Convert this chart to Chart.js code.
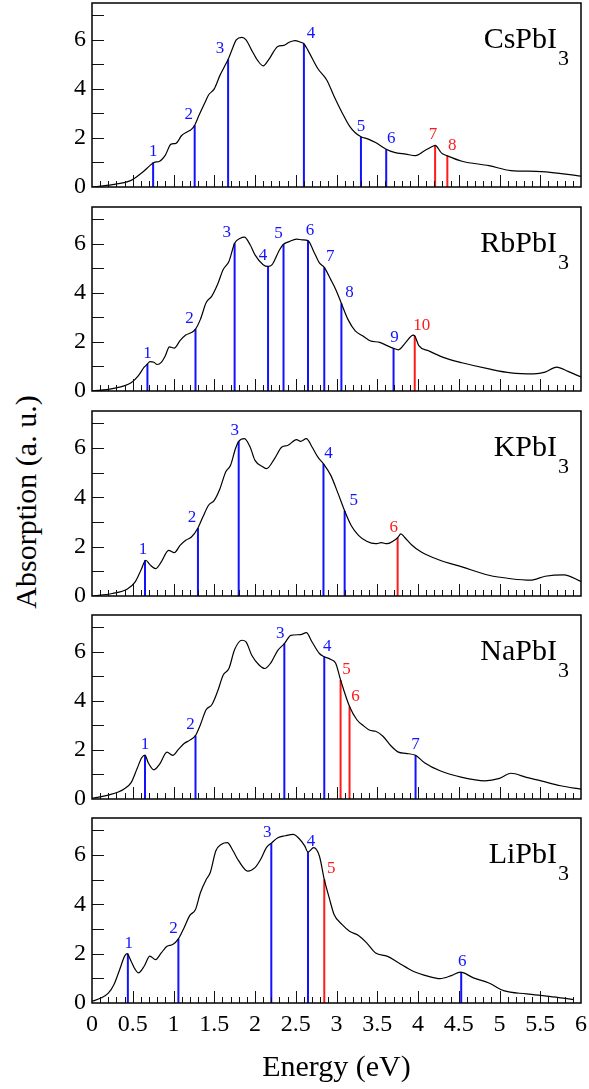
<!DOCTYPE html>
<html>
<head>
<meta charset="utf-8">
<script src="https://cdn.jsdelivr.net/npm/chart.js@4.4.1/dist/chart.umd.min.js"></script>
<style>
  body { margin: 0; background: #fff; }
  #wrap { position: relative; width: 589px; height: 1089px; overflow: hidden; }
  canvas { position: absolute; left: 0; }
  #ytitle {
    position: absolute; left: -124px; top: 485px; width: 300px;
    line-height: 36px; text-align: center; transform: rotate(-90deg);
    font: 30px "Liberation Serif", "Times New Roman", serif; color: #000;
  }
</style>
</head>
<body>
<div id="wrap"><div id="ytitle">Absorption (a. u.)</div></div>
<script>
// absorption spectra, energies in eV
var csE = [0,0.25,0.48,0.62,0.71,0.76,0.83,0.90,0.97,1.03,1.10,1.17,1.22,1.26,1.31,1.38,1.43,1.50,1.57,1.64,1.67,1.73,1.77,1.84,1.89,1.96,2.03,2.10,2.17,2.28,2.35,2.42,2.49,2.56,2.60,2.65,2.77,2.88,2.97,3.07,3.16,3.23,3.30,3.39,3.48,3.61,3.71,3.85,3.97,4.08,4.18,4.21,4.29,4.36,4.54,4.87,5.14,5.51,6.0];
var csA = [0,0.1,0.27,0.6,0.87,1.0,1.05,1.3,1.75,1.78,2.1,2.25,2.35,2.52,2.9,3.4,3.75,4.0,4.55,5.0,5.2,5.7,6.0,6.1,6.0,5.57,5.17,4.94,5.2,5.73,5.77,5.9,5.97,5.9,5.84,5.57,4.83,4.36,3.7,3.02,2.48,2.21,2.05,1.95,1.81,1.54,1.41,1.34,1.28,1.48,1.66,1.7,1.38,1.27,1.05,0.87,0.67,0.63,0.44];
var csPeakE = [0.75,1.26,1.67,2.60,3.30,3.61,4.21,4.36];
var csPeakA = [1.0,2.52,5.2,5.84,2.05,1.54,1.7,1.27];
var csRed = [7, 8];

var rbE = [0,0.25,0.48,0.57,0.64,0.68,0.71,0.76,0.80,0.85,0.90,0.95,1.01,1.08,1.15,1.22,1.27,1.33,1.40,1.47,1.54,1.61,1.68,1.75,1.82,1.87,1.94,2.0,2.10,2.16,2.21,2.30,2.35,2.42,2.51,2.58,2.65,2.72,2.79,2.85,2.93,3.0,3.06,3.14,3.23,3.32,3.41,3.53,3.62,3.70,3.76,3.85,3.94,3.96,4.01,4.13,4.31,4.54,4.87,5.14,5.42,5.56,5.70,5.84,6.0];
var rbA = [0,0.1,0.34,0.63,0.97,1.1,1.2,1.17,1.08,1.17,1.44,1.8,1.75,2.05,2.28,2.38,2.52,2.92,3.6,3.87,4.34,4.95,5.28,6.02,6.23,6.27,5.96,5.55,5.15,5.08,5.15,5.75,5.98,6.09,6.19,6.16,6.13,5.69,5.22,5.04,4.54,4.07,3.57,2.92,2.45,2.25,2.05,1.98,1.85,1.74,1.68,1.98,2.28,2.25,1.85,1.64,1.37,1.15,0.9,0.74,0.7,0.77,0.97,0.8,0.57];
var rbPeakE = [0.68,1.27,1.75,2.16,2.35,2.65,2.85,3.06,3.70,3.96];
var rbPeakA = [1.1,2.52,6.02,5.08,5.98,6.13,5.04,3.57,1.74,2.25];
var rbRed = [10];

var kE = [0,0.25,0.43,0.53,0.60,0.66,0.71,0.78,0.85,0.94,1.01,1.08,1.15,1.22,1.30,1.36,1.43,1.50,1.57,1.64,1.70,1.76,1.80,1.87,1.94,2.0,2.10,2.14,2.24,2.33,2.40,2.51,2.56,2.63,2.70,2.77,2.84,2.93,3.02,3.10,3.18,3.27,3.37,3.48,3.55,3.62,3.71,3.75,3.79,3.84,3.92,4.04,4.27,4.54,4.87,5.14,5.38,5.56,5.79,6.0];
var kA = [0,0.1,0.27,0.57,1.04,1.45,1.27,1.11,1.38,1.85,1.76,2.05,2.26,2.39,2.76,3.2,3.68,3.88,4.35,5.03,5.3,5.97,6.27,6.38,6.04,5.5,5.23,5.16,5.57,6.04,6.1,6.34,6.27,6.38,6.04,5.64,5.36,4.89,4.15,3.45,2.86,2.46,2.22,2.12,2.16,2.12,2.26,2.36,2.52,2.36,2.08,1.78,1.45,1.18,0.84,0.7,0.64,0.8,0.86,0.59];
var kPeakE = [0.65,1.30,1.80,2.84,3.10,3.75];
var kPeakA = [1.45,2.76,6.27,5.36,3.45,2.36];
var kRed = [6];

var naE = [0,0.2,0.39,0.48,0.55,0.61,0.65,0.69,0.76,0.83,0.92,0.99,1.06,1.13,1.20,1.27,1.33,1.40,1.47,1.54,1.61,1.68,1.75,1.84,1.89,1.96,2.05,2.12,2.19,2.28,2.36,2.44,2.56,2.63,2.70,2.79,2.85,2.93,2.99,3.05,3.16,3.25,3.34,3.41,3.48,3.57,3.67,3.76,3.85,3.97,4.08,4.27,4.54,4.82,5.0,5.14,5.33,5.51,5.75,6.0];
var naA = [0.03,0.16,0.4,0.67,1.21,1.68,1.79,1.48,1.19,1.42,1.91,1.78,2.02,2.26,2.4,2.59,3.03,3.64,3.84,4.38,5.05,5.32,6.09,6.47,6.4,5.86,5.46,5.32,5.53,6.06,6.33,6.67,6.7,6.78,6.4,5.93,5.8,5.69,5.53,4.85,3.77,3.23,2.96,2.8,2.76,2.56,2.16,1.91,1.86,1.78,1.48,1.15,0.88,0.74,0.84,1.05,0.88,0.74,0.54,0.4];
var naPeakE = [0.65,1.27,2.36,2.85,3.05,3.16,3.97];
var naPeakA = [1.79,2.59,6.33,5.8,4.85,3.77,1.78];
var naRed = [5, 6];

var liE = [0,0.11,0.2,0.27,0.34,0.40,0.43,0.48,0.53,0.57,0.64,0.71,0.78,0.85,0.92,0.99,1.06,1.13,1.20,1.27,1.33,1.40,1.45,1.52,1.59,1.66,1.73,1.80,1.91,2.0,2.07,2.14,2.20,2.28,2.37,2.47,2.54,2.61,2.65,2.72,2.79,2.85,2.91,2.97,3.07,3.16,3.27,3.37,3.48,3.62,3.76,3.94,4.13,4.27,4.41,4.52,4.68,4.87,5.05,5.33,5.61,5.91];
var liA = [0.07,0.2,0.4,0.75,1.36,1.9,2.0,1.69,1.36,1.22,1.49,1.9,1.76,2.03,2.3,2.37,2.6,3.05,3.55,3.79,4.47,5.0,5.28,6.17,6.44,6.5,6.17,5.76,5.35,5.49,5.83,6.3,6.48,6.7,6.78,6.84,6.67,6.37,6.12,6.3,5.96,5.01,4.27,3.59,3.18,2.91,2.74,2.44,2.03,1.9,1.63,1.29,1.08,0.99,1.11,1.25,1.02,0.81,0.5,0.37,0.27,0.14];
var liPeakE = [0.44,1.06,2.20,2.65,2.85,4.53];
var liPeakA = [2.0,2.6,6.48,6.12,5.01,1.25];
var liRed = [5];

var xTickLabels = [0,0.5,1,1.5,2,2.5,3,3.5,4,4.5,5,5.5,6];
var yTickLabels = [0,2,4,6];

// styling / layout
var BLUE = '#1212ff', RED = '#ff1a1a';
var panels = [
  { name: 'CsPbI', e: csE, a: csA, pe: csPeakE, pa: csPeakA, red: csRed, dx: [0,-6,-8,7,0,5,-2,5] },
  { name: 'RbPbI', e: rbE, a: rbA, pe: rbPeakE, pa: rbPeakA, red: rbRed, dx: [0,-6,-8,-5,-5,2,6,8,1,7] },
  { name: 'KPbI',  e: kE,  a: kA,  pe: kPeakE,  pa: kPeakA,  red: kRed,  dx: [-2,-6,-4,5,9,-4] },
  { name: 'NaPbI', e: naE, a: naA, pe: naPeakE, pa: naPeakA, red: naRed, dx: [0,-5,-4,3,6,6,0] },
  { name: 'LiPbI', e: liE, a: liA, pe: liPeakE, pa: liPeakA, red: liRed, dx: [1,-5,-4,3,7,1] }
];
var tops = [3, 207, 411, 615, 818];
var bottoms = [187, 391, 596, 799, 1003];

Chart.defaults.font.family = '"Liberation Serif", "Times New Roman", serif';
Chart.defaults.color = '#000';

function zeroPad(s) {
  s.paddingLeft = 0; s.paddingRight = 0; s.paddingTop = 0; s.paddingBottom = 0;
}

function makeDecor(p) {
  return {
    id: 'decor',
    afterDraw: function (chart) {
      var ctx = chart.ctx, a = chart.chartArea, x = chart.scales.x, y = chart.scales.y;
      ctx.save();
      // inward tick marks
      ctx.strokeStyle = '#111';
      ctx.lineWidth = 1;
      ctx.beginPath();
      for (var k = 1; k < 60; k++) {
        var px = Math.round(x.getPixelForValue(k / 10)) + 0.5;
        var len = k % 5 === 0 ? 12 : 6;
        ctx.moveTo(px, a.bottom);
        ctx.lineTo(px, a.bottom - len);
      }
      for (var v = 1; v <= 7; v++) {
        var py = Math.round(y.getPixelForValue(v)) + 0.5;
        ctx.moveTo(a.left, py);
        ctx.lineTo(a.left + 12, py);
      }
      ctx.stroke();
      // frame
      ctx.strokeStyle = '#000';
      ctx.lineWidth = 1.5;
      ctx.strokeRect(a.left, a.top, a.right - a.left, a.bottom - a.top);
      // transition numbers
      ctx.font = '17px "Liberation Serif"';
      ctx.textAlign = 'center';
      ctx.textBaseline = 'alphabetic';
      p.pe.forEach(function (e, k) {
        ctx.fillStyle = p.red.indexOf(k + 1) >= 0 ? RED : BLUE;
        ctx.fillText(String(k + 1), x.getPixelForValue(e) + p.dx[k], y.getPixelForValue(p.pa[k]) - 6);
      });
      // compound name with subscript
      ctx.fillStyle = '#000';
      ctx.textAlign = 'left';
      ctx.font = '30px "Liberation Serif"';
      var wBase = ctx.measureText(p.name).width;
      ctx.font = '22px "Liberation Serif"';
      var wSub = ctx.measureText('3').width;
      var x0 = a.right - 12 - wSub - 1 - wBase;
      ctx.font = '30px "Liberation Serif"';
      ctx.fillText(p.name, x0, a.top + 45);
      ctx.font = '22px "Liberation Serif"';
      ctx.fillText('3', x0 + wBase + 1, a.top + 62);
      ctx.restore();
    }
  };
}

var wrap = document.getElementById('wrap');
panels.forEach(function (p, i) {
  var last = i === panels.length - 1;
  var cTop = tops[i] - 3;
  var cH = last ? 1089 - cTop : 204;
  var ph = bottoms[i] - tops[i];
  var cv = document.createElement('canvas');
  cv.width = 589;
  cv.height = cH;
  cv.style.top = cTop + 'px';
  wrap.appendChild(cv);

  var datasets = [{
    data: p.e.map(function (e, k) { return { x: e, y: p.a[k] }; }),
    borderColor: '#000', borderWidth: 1.2, pointRadius: 0,
    showLine: true, cubicInterpolationMode: 'monotone', order: 0
  }];
  p.pe.forEach(function (e, k) {
    datasets.push({
      data: [{ x: e, y: 0 }, { x: e, y: p.pa[k] }],
      borderColor: p.red.indexOf(k + 1) >= 0 ? RED : BLUE,
      borderWidth: 2, pointRadius: 0, showLine: true, order: 1
    });
  });

  new Chart(cv, {
    type: 'scatter',
    data: { datasets: datasets },
    options: {
      responsive: false,
      animation: false,
      devicePixelRatio: 1,
      layout: { padding: { top: 3, right: 8, left: 0, bottom: last ? 0 : cH - 3 - ph } },
      plugins: { legend: { display: false }, tooltip: { enabled: false } },
      scales: {
        x: {
          type: 'linear', min: 0, max: 6, display: last,
          grid: { display: false, drawTicks: false },
          border: { display: false },
          ticks: {
            font: { size: 24 }, color: '#000', padding: 7, maxRotation: 0, autoSkip: false,
            callback: function (v) { return String(v); }
          },
          title: { display: true, text: 'Energy (eV)', font: { size: 30 }, color: '#000', padding: { top: 0, bottom: 3 } },
          afterBuildTicks: function (s) { s.ticks = xTickLabels.map(function (v) { return { value: v }; }); },
          afterFit: function (s) { if (last) { s.height = cH - 3 - ph; } zeroPad(s); }
        },
        y: {
          min: 0, max: 7.5,
          grid: { display: false, drawTicks: false },
          border: { display: false },
          ticks: { font: { size: 24 }, color: '#000', padding: 6, callback: function (v) { return String(v); } },
          afterBuildTicks: function (s) { s.ticks = yTickLabels.map(function (v) { return { value: v }; }); },
          afterFit: function (s) { s.width = 92; zeroPad(s); }
        }
      }
    },
    plugins: [makeDecor(p)]
  });
});
</script>
</body>
</html>
